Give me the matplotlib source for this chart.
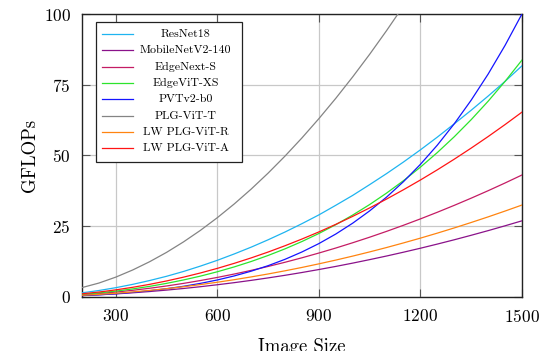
import matplotlib.pyplot as plt
from matplotlib.patches import Rectangle

# ----------------------------------------------------------------------------
# Data (every 50 px of image size)
# ----------------------------------------------------------------------------

image_size = [200, 250, 300, 350, 400, 450, 500, 550, 600, 650, 700, 750, 800, 850,
              900, 950, 1000, 1050, 1100, 1150, 1200, 1250, 1300, 1350, 1400, 1450, 1500]

resnet18 = [1.45, 2.27, 3.27, 4.45, 5.8, 7.3, 9.0, 10.9, 12.95, 15.2, 17.6, 20.2, 22.95,
            25.9, 29.0, 32.4, 35.9, 39.7, 43.6, 47.7, 52.0, 56.5, 61.2, 66.0, 71.0, 76.2, 81.7]
mobilenetv2_140 = [0.48, 0.75, 1.08, 1.47, 1.91, 2.42, 2.99, 3.62, 4.31, 5.05, 5.86, 6.73,
                   7.65, 8.64, 9.69, 10.79, 11.96, 13.19, 14.47, 15.82, 17.22, 18.69, 20.21,
                   21.8, 23.44, 25.15, 26.91]
edgenext_s = [0.77, 1.2, 1.72, 2.35, 3.07, 3.88, 4.79, 5.8, 6.9, 8.1, 9.39, 10.78, 12.26,
              13.84, 15.52, 17.29, 19.16, 21.12, 23.18, 25.34, 27.59, 29.94, 32.38, 34.92,
              37.55, 40.28, 43.11]
edgevit_xs = [0.9, 1.42, 2.06, 2.84, 3.74, 4.8, 6.0, 7.36, 8.9, 10.62, 12.53, 14.66, 17.0,
              19.59, 22.43, 25.55, 28.95, 32.66, 36.71, 41.1, 45.88, 51.05, 56.63, 62.67,
              69.18, 76.19, 83.73]
pvtv2_b0 = [0.48, 0.77, 1.14, 1.62, 2.2, 2.91, 3.76, 4.79, 6.0, 7.43, 9.11, 11.05, 13.3,
            15.9, 18.86, 22.24, 26.08, 30.42, 35.29, 40.76, 46.87, 53.67, 61.21, 69.57,
            78.77, 88.91, 100.03]
plg_vit_t = [3.3, 4.9, 7.0, 9.53, 12.45, 15.75, 19.45, 23.53, 28.01, 32.87, 38.12, 43.76,
             49.79, 56.21, 63.02, 70.21, 77.8, 85.77, 94.14, 102.89, 112.03, 121.6, 131.5,
             141.8, 152.5, 163.6, 175.0]
lw_plg_vit_r = [0.58, 0.9, 1.3, 1.77, 2.31, 2.92, 3.61, 4.37, 5.2, 6.1, 7.08, 8.12, 9.24,
                10.43, 11.7, 13.03, 14.44, 15.92, 17.47, 19.1, 20.79, 22.56, 24.4, 26.32,
                28.3, 30.36, 32.49]
lw_plg_vit_a = [1.11, 1.73, 2.5, 3.41, 4.45, 5.65, 6.99, 8.47, 10.1, 11.88, 13.8, 15.87,
                18.1, 20.47, 22.98, 25.66, 28.49, 31.47, 34.6, 37.9, 41.34, 44.94, 48.7,
                52.62, 56.69, 60.93, 65.33]

series = [
    ("ResNet18", resnet18, "#1eb4f0"),
    ("MobileNetV2-140", mobilenetv2_140, "#8a128a"),
    ("EdgeNext-S", edgenext_s, "#c41c64"),
    ("EdgeViT-XS", edgevit_xs, "#2ce42c"),
    ("PVTv2-b0", pvtv2_b0, "#1414ff"),
    ("PLG-ViT-T", plg_vit_t, "#848484"),
    ("LW PLG-ViT-R", lw_plg_vit_r, "#ff8410"),
    ("LW PLG-ViT-A", lw_plg_vit_a, "#ff1414"),
]

x_ticks = [300, 600, 900, 1200, 1500]
y_ticks = [0, 25, 50, 75, 100]

# ----------------------------------------------------------------------------
# Plot
# ----------------------------------------------------------------------------

plt.rcParams["font.family"] = ["cmr10", "DejaVu Serif"]
plt.rcParams["mathtext.fontset"] = "cm"
plt.rcParams["axes.formatter.use_mathtext"] = True

fig = plt.figure(figsize=(5.46, 3.51), dpi=100)
ax = fig.add_axes([0.150, 0.154, 0.806, 0.806])

for name, vals, color in series:
    ax.plot(image_size, vals, color=color, lw=0.9, label=name, zorder=3)

ax.set_xlim(200, 1500)
ax.set_ylim(0, 100)
ax.set_xticks(x_ticks)
ax.set_yticks(y_ticks)
ax.grid(True, color="#c8c8c8", lw=0.9, zorder=0)
ax.tick_params(direction="in", length=6, width=0.8, color="#555555",
               top=True, right=True, labelsize=12.5, pad=8)
for sp in ax.spines.values():
    sp.set_linewidth(1.0)
    sp.set_color("#222222")

ax.set_xlabel("Image Size", fontsize=13.5, labelpad=9)
ax.set_ylabel("GFLOPs", fontsize=13.5, labelpad=3)

# Legend drawn by hand so the labels can be centred like pgfplots does
box_x0, box_x1, box_y0, box_y1 = 0.031, 0.363, 0.478, 0.971
ax.add_patch(Rectangle((box_x0, box_y0), box_x1 - box_x0, box_y1 - box_y0,
                       transform=ax.transAxes, facecolor="white",
                       edgecolor="#222222", lw=0.9, zorder=5))
row_y = 0.929
for name, vals, color in series:
    ax.plot([0.045, 0.117], [row_y, row_y], transform=ax.transAxes,
            color=color, lw=0.9, zorder=6)
    ax.text(0.236, row_y, name, transform=ax.transAxes, ha="center",
            va="center", fontsize=8.6, zorder=6)
    row_y -= 0.0577

fig.savefig("out.png", dpi=100)
